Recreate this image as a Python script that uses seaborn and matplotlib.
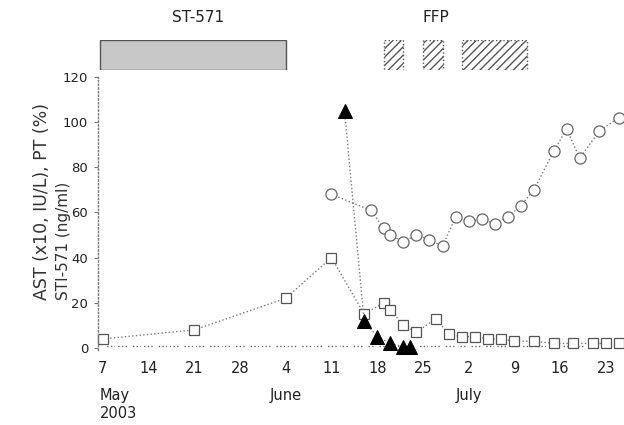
import pandas as pd
import matplotlib
matplotlib.use('Agg')
import matplotlib.pyplot as plt
import matplotlib.dates as mdates
import matplotlib.transforms as mtransforms
import seaborn as sns

sns.set_style('white')
plt.rcParams['font.family'] = ['DejaVu Sans']

### AST (x10) - open squares
ast_dates = ['2003-05-07', '2003-05-21', '2003-06-04', '2003-06-11', '2003-06-16', '2003-06-19',
             '2003-06-20', '2003-06-22', '2003-06-24', '2003-06-27', '2003-06-29', '2003-07-01',
             '2003-07-03', '2003-07-05', '2003-07-07', '2003-07-09', '2003-07-12', '2003-07-15',
             '2003-07-18', '2003-07-21', '2003-07-23', '2003-07-25']
ast_vals = [4, 8, 22, 40, 15, 20, 17, 10, 7, 13, 6, 5, 5, 4, 4, 3, 3, 2, 2, 2, 2, 2]

### PT (%) - open circles
pt_dates = ['2003-06-11', '2003-06-17', '2003-06-19', '2003-06-20', '2003-06-22', '2003-06-24',
            '2003-06-26', '2003-06-28', '2003-06-30', '2003-07-02', '2003-07-04', '2003-07-06',
            '2003-07-08', '2003-07-10', '2003-07-12', '2003-07-15', '2003-07-17', '2003-07-19',
            '2003-07-22', '2003-07-25']
pt_vals = [68, 61, 53, 50, 47, 50, 48, 45, 58, 56, 57, 55, 58, 63, 70, 87, 97, 84, 96, 102]

### STI-571 (ng/ml) - filled triangles
sti_dates = ['2003-06-13', '2003-06-16', '2003-06-18', '2003-06-20', '2003-06-22', '2003-06-23']
sti_vals = [105, 12, 5, 2, 0.5, 0.5]

### low values along the baseline
base_dates = ['2003-05-07', '2003-05-09', '2003-05-11', '2003-05-13', '2003-05-15', '2003-05-17',
              '2003-05-19', '2003-05-21', '2003-05-23', '2003-05-25', '2003-05-27', '2003-05-29',
              '2003-05-31', '2003-06-02', '2003-06-04', '2003-06-06', '2003-06-08', '2003-06-10',
              '2003-06-12', '2003-06-14', '2003-06-16', '2003-06-18', '2003-06-20', '2003-06-22',
              '2003-06-24', '2003-06-26', '2003-06-28', '2003-06-30', '2003-07-02', '2003-07-04',
              '2003-07-06', '2003-07-08', '2003-07-10', '2003-07-12', '2003-07-14', '2003-07-16',
              '2003-07-18', '2003-07-20', '2003-07-22', '2003-07-24']
base_vals = [1, 1, 1, 1, 1, 1, 1, 1, 1, 1, 1, 1, 1, 1, 1, 1, 1, 1, 1, 1,
             1, 1, 1, 1, 1, 1, 1, 1, 1, 1, 1, 1, 1, 1, 1, 1, 1, 1, 1, 1]

### treatment periods shown above the plot
sti_period = ['2003-05-06', '2003-06-04']
ffp_starts = ['2003-06-19', '2003-06-25', '2003-07-01']
ffp_ends = ['2003-06-22', '2003-06-28', '2003-07-11']

xtick_dates = ['2003-05-07', '2003-05-14', '2003-05-21', '2003-05-28', '2003-06-04', '2003-06-11',
               '2003-06-18', '2003-06-25', '2003-07-02', '2003-07-09', '2003-07-16', '2003-07-23']
xtick_labels = ['7', '14', '21', '28', '4', '11', '18', '25', '2', '9', '16', '23']

ink = '#222222'
grey = '#7a7a7a'
fs = 10.5

fig = plt.figure(figsize=(6.24, 4.25), dpi=100)
ax = fig.add_axes([0.157, 0.176, 0.84, 0.643])

sns.lineplot(x=pd.to_datetime(base_dates), y=base_vals, ax=ax, color='#666666', linestyle=':',
             marker='x', markersize=4, markeredgewidth=1, linewidth=1, clip_on=False)
sns.lineplot(x=pd.to_datetime(ast_dates), y=ast_vals, ax=ax, color=grey, linestyle=':',
             marker='s', markersize=7.5, markerfacecolor='white', markeredgecolor='#555555',
             markeredgewidth=0.9, linewidth=1, clip_on=False)
sns.lineplot(x=pd.to_datetime(pt_dates), y=pt_vals, ax=ax, color=grey, linestyle=':',
             marker='o', markersize=8, markerfacecolor='white', markeredgecolor='#666666',
             markeredgewidth=0.9, linewidth=1, clip_on=False)
sns.lineplot(x=pd.to_datetime(sti_dates), y=sti_vals, ax=ax, color=grey, linestyle=':',
             marker='^', markersize=10, markerfacecolor='black', markeredgecolor='black',
             linewidth=1, clip_on=False)

ax.set_xlim(pd.Timestamp('2003-05-06 06:00'), pd.Timestamp('2003-07-25 12:00'))
ax.set_ylim(-1, 120)
ax.set_yticks([0, 20, 40, 60, 80, 100, 120])
ax.set_xticks(pd.to_datetime(xtick_dates))
ax.set_xticklabels(xtick_labels)
ax.tick_params(axis='x', length=0, pad=8, labelsize=fs, labelcolor=ink)
ax.tick_params(axis='y', left=True, length=3, width=0.8, color=grey, pad=4,
               labelsize=9.5, labelcolor=ink)
ax.set_xlabel('')
ax.set_ylabel('')
for s in ['top', 'right', 'bottom']:
    ax.spines[s].set_visible(False)
ax.spines['left'].set_linestyle(':')
ax.spines['left'].set_color(grey)
ax.spines['left'].set_linewidth(1)

### month / year labels under the date ticks
trans = mtransforms.blended_transform_factory(ax.transData, ax.transAxes)
ax.text(pd.Timestamp('2003-05-06 12:00'), -0.165, 'May', transform=trans, ha='left',
        va='center', fontsize=fs, color=ink)
ax.text(pd.Timestamp('2003-05-06 12:00'), -0.23, '2003', transform=trans, ha='left',
        va='center', fontsize=fs, color=ink)
ax.text(pd.Timestamp('2003-06-04'), -0.165, 'June', transform=trans, ha='center',
        va='center', fontsize=fs, color=ink)
ax.text(pd.Timestamp('2003-07-02'), -0.165, 'July', transform=trans, ha='center',
        va='center', fontsize=fs, color=ink)

### y axis label (two lines, bottom aligned)
fig.text(0.068, 0.294, 'AST (x10, IU/L), PT (%)', rotation=90, ha='center', va='bottom',
         fontsize=12.5, color='#333333')
fig.text(0.101, 0.294, 'STI-571 (ng/ml)', rotation=90, ha='center', va='bottom',
         fontsize=11, color='#333333')

### treatment bars on top
ax_top = fig.add_axes([0.157, 0.835, 0.84, 0.071], sharex=ax)
s0 = mdates.date2num(pd.Timestamp(sti_period[0]) + pd.Timedelta(hours=12))
s1 = mdates.date2num(pd.Timestamp(sti_period[1]))
ax_top.barh(0.5, s1 - s0, left=s0, height=1, color='#c8c8c8', edgecolor='#555555',
            linewidth=1)
for a, b in zip(ffp_starts, ffp_ends):
    f0 = mdates.date2num(pd.Timestamp(a))
    f1 = mdates.date2num(pd.Timestamp(b))
    ax_top.barh(0.5, f1 - f0, left=f0, height=1, color='white', edgecolor='#555555',
                hatch='////', linewidth=1, linestyle=':')
ax_top.set_ylim(0, 1)
ax_top.axis('off')
ax_top.text(mdates.date2num(pd.Timestamp('2003-05-21 12:00')), 1.75, 'ST-571', ha='center',
            va='center', fontsize=11, color=ink)
ax_top.text(mdates.date2num(pd.Timestamp('2003-06-27')), 1.75, 'FFP', ha='center',
            va='center', fontsize=11, color=ink)

plt.savefig('out.png', dpi=100)
